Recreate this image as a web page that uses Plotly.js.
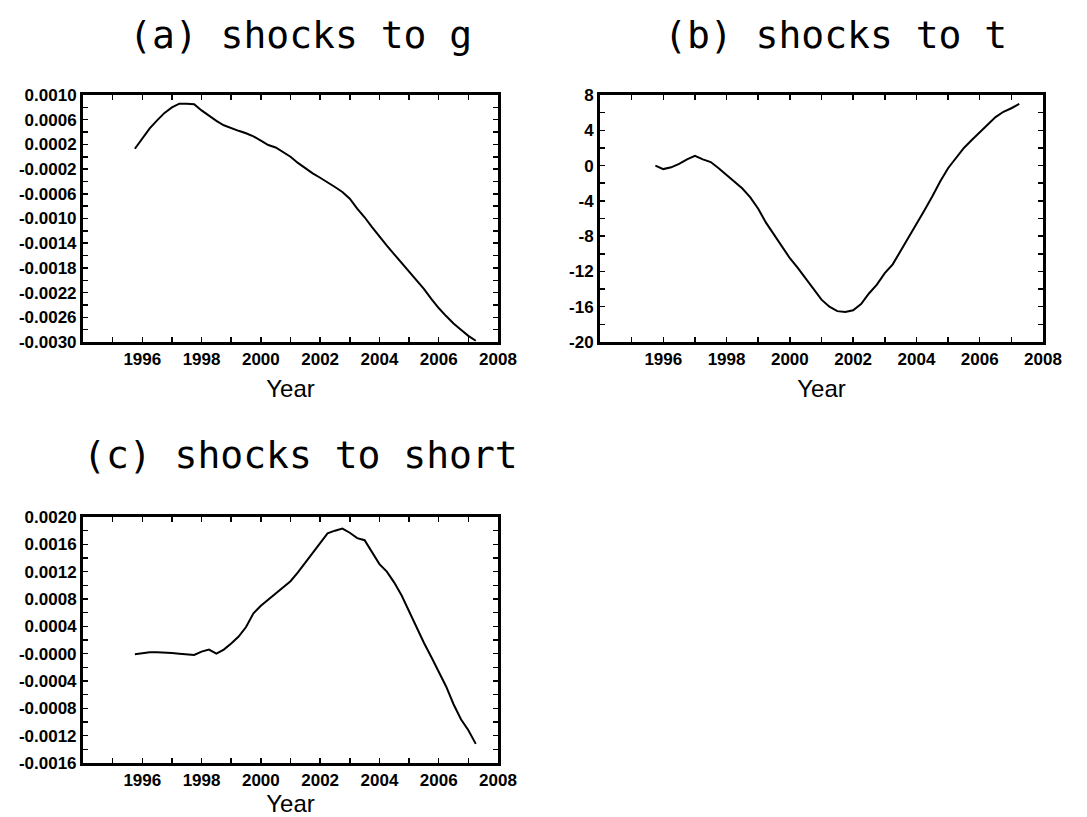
<!DOCTYPE html>
<html>
<head>
<meta charset="utf-8">
<script src="https://cdn.plot.ly/plotly-3.0.1.min.js"></script>
<style>html,body{margin:0;padding:0;background:#fff;}#chart{width:1087px;height:817px;}</style>
</head>
<body>
<div id="chart"></div>
<script>
// ---- data ----
const quarters = [1995.75,1996.0,1996.25,1996.5,1996.75,1997.0,1997.25,1997.5,1997.75,1998.0,1998.25,1998.5,1998.75,
  1999.0,1999.25,1999.5,1999.75,2000.0,2000.25,2000.5,2000.75,2001.0,2001.25,2001.5,2001.75,2002.0,2002.25,2002.5,2002.75,
  2003.0,2003.25,2003.5,2003.75,2004.0,2004.25,2004.5,2004.75,2005.0,2005.25,2005.5,2005.75,2006.0,2006.25,2006.5,2006.75,
  2007.0,2007.25];

const shocksG = [0.00013,0.00029,0.00046,0.00059,0.00071,0.00080,0.00086,0.00086,0.00085,0.00075,0.00066,0.00058,0.00051,
  0.00046,0.00042,0.00038,0.00033,0.00026,0.00019,0.00015,0.00008,0.00000,-0.00010,-0.00019,-0.00027,-0.00034,-0.00041,-0.00049,-0.00057,
  -0.00068,-0.00084,-0.00098,-0.00114,-0.00130,-0.00144,-0.00158,-0.00172,-0.00186,-0.00200,-0.00214,-0.00230,-0.00245,-0.00258,-0.00270,-0.00280,
  -0.00290,-0.00298];

const shocksT = [0.0,-0.4,-0.2,0.2,0.7,1.1,0.7,0.4,-0.3,-1.1,-1.8,-2.6,-3.6,
  -4.9,-6.5,-7.8,-9.1,-10.5,-11.6,-12.8,-13.9,-15.2,-16.0,-16.5,-16.6,-16.4,-15.7,-14.5,-13.5,
  -12.2,-11.2,-9.7,-8.2,-6.6,-5.1,-3.5,-1.8,-0.3,0.9,2.0,2.9,3.8,4.6,5.5,6.1,
  6.5,7.0];

const shocksShort = [-0.00001,0.00001,0.00002,0.00002,0.00002,0.00001,0.00000,-0.00001,-0.00002,0.00003,0.00006,0.00000,0.00006,
  0.00015,0.00025,0.00039,0.00059,0.00070,0.00079,0.00088,0.00097,0.00106,0.00119,0.00133,0.00147,0.00162,0.00176,0.00180,0.00183,
  0.00177,0.00169,0.00166,0.00149,0.00131,0.00120,0.00104,0.00085,0.00062,0.00038,0.00016,-0.00005,-0.00027,-0.00048,-0.00074,-0.00096,
  -0.00112,-0.00132];

const panelTitles = ["(a) shocks to g", "(b) shocks to t", "(c) shocks to short"];
const xTitle = "Year";

const yearTicks = [1994,1995,1996,1997,1998,1999,2000,2001,2002,2003,2004,2005,2006,2007,2008];
const yearLabels = ["","","1996","","1998","","2000","","2002","","2004","","2006","","2008"];

const gTicks = [0.0010,0.0008,0.0006,0.0004,0.0002,0.0000,-0.0002,-0.0004,-0.0006,-0.0008,-0.0010,-0.0012,-0.0014,-0.0016,
  -0.0018,-0.0020,-0.0022,-0.0024,-0.0026,-0.0028,-0.0030];
const gLabels = ["0.0010","","0.0006","","0.0002","","-0.0002","","-0.0006","","-0.0010","","-0.0014","",
  "-0.0018","","-0.0022","","-0.0026","","-0.0030"];

const tTicks = [8,6,4,2,0,-2,-4,-6,-8,-10,-12,-14,-16,-18,-20];
const tLabels = ["8","","4","","0","","-4","","-8","","-12","","-16","","-20"];

const sTicks = [0.0020,0.0018,0.0016,0.0014,0.0012,0.0010,0.0008,0.0006,0.0004,0.0002,0.0000,-0.0002,-0.0004,-0.0006,
  -0.0008,-0.0010,-0.0012,-0.0014,-0.0016];
const sLabels = ["0.0020","","0.0016","","0.0012","","0.0008","","0.0004","","-0.0000","","-0.0004","",
  "-0.0008","","-0.0012","","-0.0016"];

// ---- layout helpers ----
const W = 1087, H = 817;
const px = v => v / W;
const py = v => 1 - v / H;

const tickFont = {family: "Liberation Sans, Arial, sans-serif", size: 17, color: "#000", weight: "bold"};
const titleFont = {family: "DejaVu Sans Mono, monospace", size: 38, color: "#000"};
const axTitleFont = {family: "Liberation Sans, Arial, sans-serif", size: 24, color: "#000"};

function xAxis(domain, anchor) {
  return {
    domain: domain, anchor: anchor, range: [1994, 2008],
    tickmode: "array", tickvals: yearTicks, ticktext: yearLabels,
    ticks: "inside", ticklen: 5, tickwidth: 1.5, tickcolor: "#000",
    showline: true, linewidth: 3, linecolor: "#000", mirror: "allticks",
    showgrid: false, zeroline: false, tickfont: tickFont,
    title: {text: xTitle, font: axTitleFont, standoff: 12}
  };
}
function yAxis(domain, anchor, range, vals, labels) {
  return {
    domain: domain, anchor: anchor, range: range,
    tickmode: "array", tickvals: vals, ticktext: labels,
    ticks: "inside", ticklen: 5, tickwidth: 1.5, tickcolor: "#000",
    showline: true, linewidth: 3, linecolor: "#000", mirror: "allticks",
    showgrid: false, zeroline: false, tickfont: tickFont
  };
}

const lineStyle = {color: "#000", width: 2};
const traces = [
  {x: quarters, y: shocksG, xaxis: "x", yaxis: "y", mode: "lines", line: lineStyle, showlegend: false},
  {x: quarters, y: shocksT, xaxis: "x2", yaxis: "y2", mode: "lines", line: lineStyle, showlegend: false},
  {x: quarters, y: shocksShort, xaxis: "x3", yaxis: "y3", mode: "lines", line: lineStyle, showlegend: false}
];

const layout = {
  width: W, height: H,
  margin: {l: 0, r: 0, t: 0, b: 0},
  paper_bgcolor: "#fff", plot_bgcolor: "#fff",
  showlegend: false,
  xaxis: xAxis([px(83), px(498)], "y"),
  yaxis: yAxis([py(342), py(95)], "x", [-0.0030, 0.0010], gTicks, gLabels),
  xaxis2: xAxis([px(600), px(1043)], "y2"),
  yaxis2: yAxis([py(342), py(95)], "x2", [-20, 8], tTicks, tLabels),
  xaxis3: xAxis([px(83), px(498)], "y3"),
  yaxis3: yAxis([py(763), py(517)], "x3", [-0.0016, 0.0020], sTicks, sLabels),
  annotations: [
    {text: panelTitles[0], x: px(300), y: py(35), xref: "paper", yref: "paper", xanchor: "center", yanchor: "middle", showarrow: false, font: titleFont},
    {text: panelTitles[1], x: px(835), y: py(35), xref: "paper", yref: "paper", xanchor: "center", yanchor: "middle", showarrow: false, font: titleFont},
    {text: panelTitles[2], x: px(300), y: py(455), xref: "paper", yref: "paper", xanchor: "center", yanchor: "middle", showarrow: false, font: titleFont}
  ]
};

Plotly.newPlot("chart", traces, layout, {staticPlot: true, displayModeBar: false});
</script>
</body>
</html>
